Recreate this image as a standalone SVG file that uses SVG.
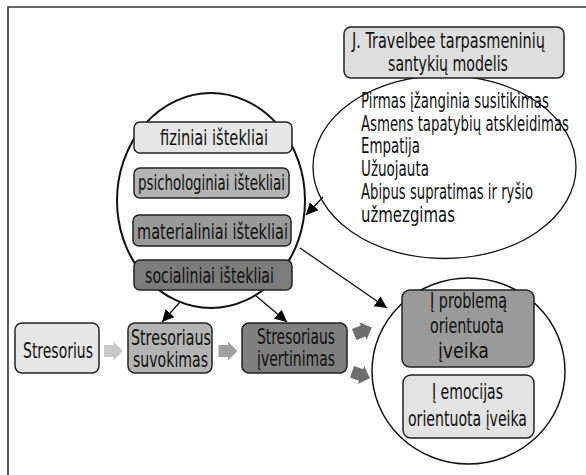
<svg xmlns="http://www.w3.org/2000/svg" width="586" height="475" viewBox="0 0 586 475">
<style>
text{font-family:"DejaVu Sans Condensed","DejaVu Sans","Liberation Sans",sans-serif;font-size:21px;fill:#111}
.c{text-anchor:middle}
.box{stroke:#222;stroke-width:1.5}
.ell{fill:#fff;stroke:#111}
.con{stroke:#111;stroke-width:1.3;fill:none;marker-end:url(#ah)}
</style>
<defs>
<marker id="ah" markerUnits="userSpaceOnUse" markerWidth="13" markerHeight="13" refX="12" refY="6" orient="auto">
<path d="M0,0 L12,6 L0,12 Z" fill="#000"/>
</marker>
<path id="blk" d="M-9.5,-6 H0 V-9.5 L9.5,0 L0,9.5 V6 H-9.5 Z"/>
</defs>
<rect width="586" height="475" fill="#fff"/>
<path d="M8,475 V7 H586" fill="none" stroke="#333" stroke-width="1.6"/>

<g id="resources">
<ellipse class="ell" cx="211" cy="200.5" rx="94" ry="107.5" stroke-width="2"/>
</g>
<g id="fiziniai">
<rect class="box" x="134" y="122" width="158" height="31" rx="6" fill="#e6e6e6"/>
<text class="c" x="214" y="145" textLength="108" lengthAdjust="spacingAndGlyphs">fiziniai ištekliai</text>
</g>
<g id="psichologiniai">
<rect class="box" x="134" y="168" width="155" height="30" rx="6" fill="#b4b4b4"/>
<text class="c" x="211.5" y="190" textLength="147" lengthAdjust="spacingAndGlyphs">psichologiniai ištekliai</text>
</g>
<g id="materialiniai">
<rect class="box" x="133" y="215" width="158" height="31" rx="6" fill="#999"/>
<text class="c" x="212.5" y="239" textLength="151" lengthAdjust="spacingAndGlyphs">materialiniai ištekliai</text>
</g>
<g id="socialiniai">
<rect class="box" x="134" y="260" width="158" height="30" rx="6" fill="#7c7c7c"/>
<text class="c" x="209.5" y="283" textLength="129" lengthAdjust="spacingAndGlyphs">socialiniai ištekliai</text>
</g>

<g id="travelbee-model">
<ellipse class="ell" cx="444.5" cy="167" rx="131.5" ry="91.5" stroke-width="1.3"/>
<text x="361" y="108" textLength="188" lengthAdjust="spacingAndGlyphs">Pirmas įžanginia susitikimas</text>
<text x="361" y="131" textLength="208" lengthAdjust="spacingAndGlyphs">Asmens tapatybių atskleidimas</text>
<text x="361" y="153" textLength="59" lengthAdjust="spacingAndGlyphs">Empatija</text>
<text x="361" y="176" textLength="68" lengthAdjust="spacingAndGlyphs">Užuojauta</text>
<text x="361" y="199" textLength="172" lengthAdjust="spacingAndGlyphs">Abipus supratimas ir ryšio</text>
<text x="361" y="222" textLength="94" lengthAdjust="spacingAndGlyphs">užmezgimas</text>
</g>
<g id="travelbee-title">
<rect class="box" x="344" y="27" width="220" height="51" rx="7" fill="#dedede"/>
<text class="c" x="448.5" y="48" textLength="193" lengthAdjust="spacingAndGlyphs">J. Travelbee tarpasmeninių</text>
<text class="c" x="448" y="71" textLength="120" lengthAdjust="spacingAndGlyphs">santykių modelis</text>
</g>

<g id="stresorius">
<rect class="box" x="15" y="323" width="84" height="50" rx="7" fill="#e6e6e6"/>
<text class="c" x="58" y="358" textLength="70" lengthAdjust="spacingAndGlyphs">Stresorius</text>
</g>
<g id="suvokimas">
<rect class="box" x="128" y="323" width="84" height="50" rx="7" fill="#b4b4b4"/>
<text class="c" x="171" y="345" textLength="80" lengthAdjust="spacingAndGlyphs">Stresoriaus</text>
<text class="c" x="170.5" y="367" textLength="75" lengthAdjust="spacingAndGlyphs">suvokimas</text>
</g>
<g id="ivertinimas">
<rect class="box" x="242" y="323" width="105" height="50" rx="7" fill="#7f7f7f"/>
<text class="c" x="296" y="344" textLength="78" lengthAdjust="spacingAndGlyphs">Stresoriaus</text>
<text class="c" x="296" y="366" textLength="78" lengthAdjust="spacingAndGlyphs">įvertinimas</text>
</g>

<g id="coping">
<ellipse class="ell" cx="468.5" cy="371" rx="96.5" ry="93" stroke-width="1.5"/>
</g>
<g id="problema">
<rect class="box" x="402" y="290" width="132" height="77" rx="8" fill="#9a9a9a"/>
<text class="c" x="468.5" y="308" textLength="77" lengthAdjust="spacingAndGlyphs">Į problemą</text>
<text class="c" x="467" y="333" textLength="74" lengthAdjust="spacingAndGlyphs">orientuota</text>
<text class="c" x="463.5" y="358" textLength="51" lengthAdjust="spacingAndGlyphs">įveika</text>
</g>
<g id="emocijas">
<rect class="box" x="403" y="375" width="131" height="63" rx="8" fill="#e3e3e3"/>
<text class="c" x="467.5" y="399" textLength="71" lengthAdjust="spacingAndGlyphs">Į emocijas</text>
<text class="c" x="467.5" y="426" textLength="119" lengthAdjust="spacingAndGlyphs">orientuota įveika</text>
</g>

<g id="connectors">
<line class="con" x1="323" y1="197" x2="306" y2="215"/>
<line class="con" x1="300" y1="248" x2="387" y2="308"/>
<line class="con" x1="180" y1="302" x2="162" y2="322"/>
<line class="con" x1="255" y1="295" x2="287" y2="322"/>
<use href="#blk" transform="translate(113.5,351)" fill="#c8c8c8"/>
<use href="#blk" transform="translate(228,351)" fill="#a0a0a0"/>
<use href="#blk" transform="translate(363,331) rotate(-22)" fill="#6e6e6e"/>
<use href="#blk" transform="translate(361,375) rotate(20)" fill="#6e6e6e"/>
</g>
</svg>
